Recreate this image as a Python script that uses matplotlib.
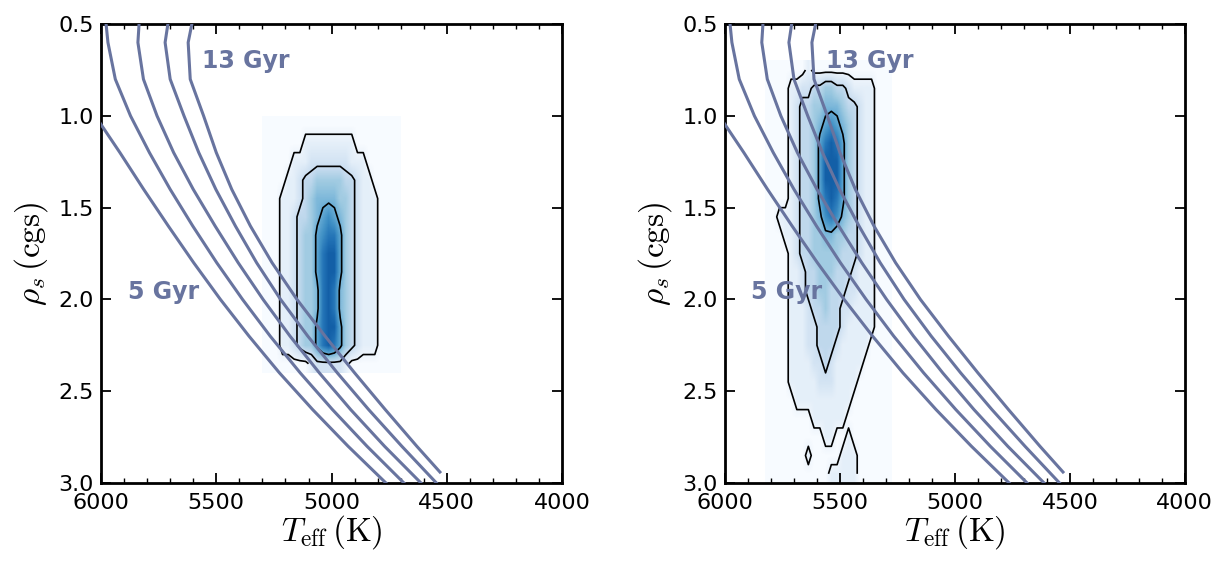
import numpy as np
import matplotlib.pyplot as plt
from matplotlib.ticker import MultipleLocator

plt.rcParams['mathtext.fontset'] = 'cm'

# isochrones, 5 Gyr (a) ... 13 Gyr (e); Teff in K, rho_s in cgs
iso_a_rho = [1.0, 1.2, 1.4, 1.6, 1.8, 2.0, 2.2, 2.4, 2.6, 2.8, 3.0]
iso_a_teff = [6025, 5918, 5815, 5708, 5598, 5482, 5358, 5226, 5082, 4928, 4764]
iso_rho = [0.5, 0.6, 0.8, 1.0, 1.2, 1.4, 1.6, 1.8, 2.0, 2.2, 2.4, 2.6, 2.8, 3.0]
iso_b_teff = [5978, 5970, 5938, 5872, 5790, 5700, 5602, 5498, 5386, 5266, 5136, 4996, 4846, 4686]
iso_c_teff = [5835, 5840, 5816, 5757, 5685, 5600, 5505, 5405, 5297, 5180, 5053, 4917, 4770, 4612]
iso_d_teff = [5710, 5722, 5700, 5640, 5576, 5502, 5417, 5325, 5221, 5103, 4975, 4839, 4695, 4545]
iso_e_rho = [0.5, 0.6, 0.8, 1.0, 1.2, 1.4, 1.6, 1.8, 2.0, 2.2, 2.4, 2.6, 2.8, 2.94]
iso_e_teff = [5606, 5622, 5613, 5555, 5500, 5433, 5352, 5258, 5150, 5028, 4900, 4767, 4630, 4530]

# posterior density (0-9 per cell), rows from low to high rho
left_teff_range = (5300, 4700)
left_rho_range = (1.0, 2.4)
left_density = [
    "000000000000000000000000",
    "000000011111111100000000",
    "000001112222222111000000",
    "000011233444443321100000",
    "000111234555544321110000",
    "000112334567654321110000",
    "000112344678864321110000",
    "000112344689964321110000",
    "000112344689964321110000",
    "000112344589854321110000",
    "000112344589854321110000",
    "000112344689964321110000",
    "000112344689864321110000",
    "000000001222221000000000",
]

right_teff_range = (5825, 5275)
right_rho_range = (0.7, 3.0)
right_density = [
    "0000000100000000000000",
    "0000112233443321111000",
    "0000123344555433211000",
    "0000123345676543211000",
    "0000123346898643211000",
    "0000123346999643211000",
    "0000123346999643211000",
    "0000123346898643211000",
    "0011123345787543211000",
    "0001123344554433211000",
    "0000123344444333211000",
    "0000112334443332111000",
    "0000112334433322111000",
    "0000111233433221111000",
    "0000111223333211111000",
    "0000111223332111110000",
    "0000111122321111100000",
    "0000111112221111000000",
    "0000011111111110000000",
    "0000000011111100000000",
    "0000000000110010000000",
    "0000000100000111000000",
    "0000000000011111000000",
]

iso_color = '#68749f'


def draw_panel(ax, density, teff_range, rho_range):
    z = np.array([[int(c) for c in row] for row in density], dtype=float)
    ny, nx = z.shape
    t0, t1 = teff_range
    r0, r1 = rho_range
    tc = t0 + (t1 - t0) * (np.arange(nx) + 0.5) / nx
    rc = r0 + (r1 - r0) * (np.arange(ny) + 0.5) / ny
    ax.imshow(z, cmap='Blues', vmin=0, vmax=11, extent=(t0, t1, r1, r0),
              origin='upper', aspect='auto', interpolation='bilinear', zorder=1)
    ax.contour(tc, rc, z, levels=[0.5, 2.5, 5.5], colors='k', linewidths=1.2, zorder=2)

    ax.plot(iso_a_teff, iso_a_rho, color=iso_color, lw=2.2, zorder=3)
    for teff in (iso_b_teff, iso_c_teff, iso_d_teff):
        ax.plot(teff, iso_rho, color=iso_color, lw=2.2, zorder=3)
    ax.plot(iso_e_teff, iso_e_rho, color=iso_color, lw=2.2, zorder=3)

    ax.text(5560, 0.70, '13 Gyr', color=iso_color, fontsize=17, fontweight='bold',
            ha='left', va='center', zorder=4)
    ax.text(5885, 1.96, '5 Gyr', color=iso_color, fontsize=17, fontweight='bold',
            ha='left', va='center', zorder=4)

    ax.set_xlim(6000, 4000)
    ax.set_ylim(3.0, 0.5)
    ax.set_xticks([6000, 5500, 5000, 4500, 4000])
    ax.set_yticks([0.5, 1.0, 1.5, 2.0, 2.5, 3.0])
    ax.xaxis.set_minor_locator(MultipleLocator(100))
    ax.tick_params(which='both', direction='in', top=True, right=True, labelsize=16)
    ax.tick_params(axis='x', pad=7)
    ax.tick_params(axis='y', pad=5)
    ax.tick_params(which='major', length=7, width=1.3)
    ax.tick_params(which='minor', length=3.5, width=1)
    for s in ax.spines.values():
        s.set_linewidth(2)
    ax.set_xlabel(r'$T_{\rm eff}\,(\rm K)$', fontsize=24, labelpad=0)
    ax.set_ylabel(r'$\rho_s\,(\rm cgs)$', fontsize=24, labelpad=6)


fig = plt.figure(figsize=(12.23, 5.61), dpi=100)
ax1 = fig.add_axes([0.0826, 0.139, 0.377, 0.818])
ax2 = fig.add_axes([0.5928, 0.139, 0.376, 0.818])
draw_panel(ax1, left_density, left_teff_range, left_rho_range)
draw_panel(ax2, right_density, right_teff_range, right_rho_range)
fig.savefig('out.png', dpi=100)
